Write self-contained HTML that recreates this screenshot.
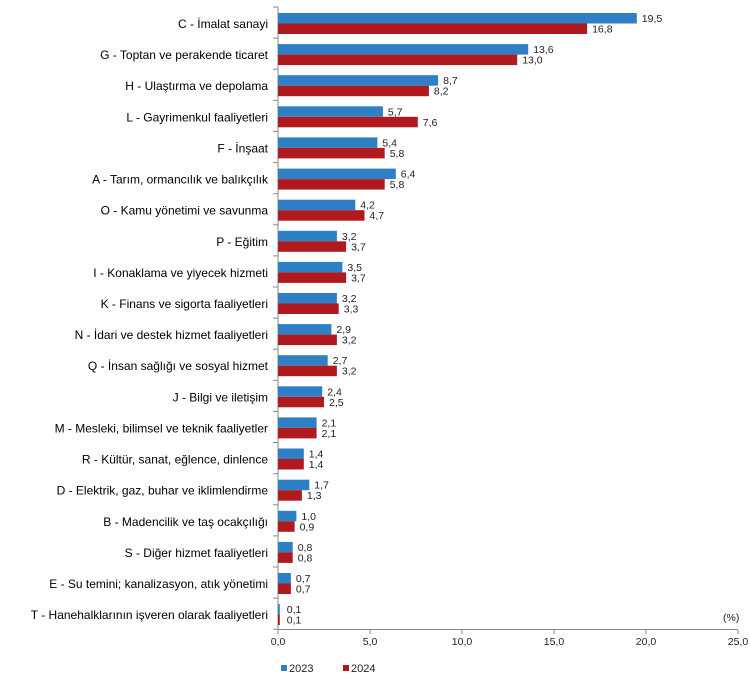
<!DOCTYPE html>
<html><head><meta charset="utf-8"><style>
html,body{margin:0;padding:0;background:#fff;}
svg{display:block;font-family:"Liberation Sans",Arial,sans-serif;}
.c{font-size:12px;fill:#000;text-anchor:end;}
.v{font-size:10.5px;fill:#222;}
.t{font-size:10.5px;fill:#222;text-anchor:middle;}
</style></head><body>
<svg width="750" height="680" viewBox="0 0 750 680">
<defs>
<g id="tk"><line x1="273" y1="0" x2="278" y2="0" stroke="#888" stroke-width="1"/></g>
</defs>
<line x1="278" y1="7" x2="278" y2="629.5" stroke="#888"/>
<line x1="278" y1="629.5" x2="738" y2="629.5" stroke="#888"/>
<g stroke="#888">
<line x1="278" y1="629.5" x2="278" y2="634"/><line x1="370" y1="629.5" x2="370" y2="634"/><line x1="462" y1="629.5" x2="462" y2="634"/><line x1="554" y1="629.5" x2="554" y2="634"/><line x1="646" y1="629.5" x2="646" y2="634"/><line x1="738" y1="629.5" x2="738" y2="634"/>
</g>
<g class="t"><text x="278" y="645">0,0</text><text x="370" y="645">5,0</text><text x="462" y="645">10,0</text><text x="554" y="645">15,0</text><text x="646" y="645">20,0</text><text x="738" y="645">25,0</text></g>
<text x="723" y="621" class="v">(%)</text>
<rect x="281" y="665" width="6" height="6" fill="#2E7FC4"/><text x="289" y="672" class="v" style="font-size:11px">2023</text>
<rect x="343" y="665" width="6" height="6" fill="#B0191E"/><text x="351" y="672" class="v" style="font-size:11px">2024</text>

<g transform="translate(0,7)"><use href="#tk"/><text x="268" y="21" class="c">C - İmalat sanayi</text><rect x="278" y="6" width="358.8" height="10.5" fill="#2E7FC4"/><rect x="278" y="16.5" width="309.1" height="10.5" fill="#B0191E"/><text x="641.8" y="15" class="v">19,5</text><text x="592.1" y="25.5" class="v">16,8</text></g>
<g transform="translate(0,38.1)"><use href="#tk"/><text x="268" y="21" class="c">G - Toptan ve perakende ticaret</text><rect x="278" y="6" width="250.2" height="10.5" fill="#2E7FC4"/><rect x="278" y="16.5" width="239.2" height="10.5" fill="#B0191E"/><text x="533.2" y="15" class="v">13,6</text><text x="522.2" y="25.5" class="v">13,0</text></g>
<g transform="translate(0,69.2)"><use href="#tk"/><text x="268" y="21" class="c">H - Ulaştırma ve depolama</text><rect x="278" y="6" width="160.1" height="10.5" fill="#2E7FC4"/><rect x="278" y="16.5" width="150.9" height="10.5" fill="#B0191E"/><text x="443.1" y="15" class="v">8,7</text><text x="433.9" y="25.5" class="v">8,2</text></g>
<g transform="translate(0,100.3)"><use href="#tk"/><text x="268" y="21" class="c">L - Gayrimenkul faaliyetleri</text><rect x="278" y="6" width="104.9" height="10.5" fill="#2E7FC4"/><rect x="278" y="16.5" width="139.8" height="10.5" fill="#B0191E"/><text x="387.9" y="15" class="v">5,7</text><text x="422.8" y="25.5" class="v">7,6</text></g>
<g transform="translate(0,131.4)"><use href="#tk"/><text x="268" y="21" class="c">F - İnşaat</text><rect x="278" y="6" width="99.4" height="10.5" fill="#2E7FC4"/><rect x="278" y="16.5" width="106.7" height="10.5" fill="#B0191E"/><text x="382.4" y="15" class="v">5,4</text><text x="389.7" y="25.5" class="v">5,8</text></g>
<g transform="translate(0,162.6)"><use href="#tk"/><text x="268" y="21" class="c">A - Tarım, ormancılık ve balıkçılık</text><rect x="278" y="6" width="117.8" height="10.5" fill="#2E7FC4"/><rect x="278" y="16.5" width="106.7" height="10.5" fill="#B0191E"/><text x="400.8" y="15" class="v">6,4</text><text x="389.7" y="25.5" class="v">5,8</text></g>
<g transform="translate(0,193.7)"><use href="#tk"/><text x="268" y="21" class="c">O - Kamu yönetimi ve savunma</text><rect x="278" y="6" width="77.3" height="10.5" fill="#2E7FC4"/><rect x="278" y="16.5" width="86.5" height="10.5" fill="#B0191E"/><text x="360.3" y="15" class="v">4,2</text><text x="369.5" y="25.5" class="v">4,7</text></g>
<g transform="translate(0,224.8)"><use href="#tk"/><text x="268" y="21" class="c">P - Eğitim</text><rect x="278" y="6" width="58.9" height="10.5" fill="#2E7FC4"/><rect x="278" y="16.5" width="68.1" height="10.5" fill="#B0191E"/><text x="341.9" y="15" class="v">3,2</text><text x="351.1" y="25.5" class="v">3,7</text></g>
<g transform="translate(0,255.9)"><use href="#tk"/><text x="268" y="21" class="c">I - Konaklama ve yiyecek hizmeti</text><rect x="278" y="6" width="64.4" height="10.5" fill="#2E7FC4"/><rect x="278" y="16.5" width="68.1" height="10.5" fill="#B0191E"/><text x="347.4" y="15" class="v">3,5</text><text x="351.1" y="25.5" class="v">3,7</text></g>
<g transform="translate(0,287)"><use href="#tk"/><text x="268" y="21" class="c">K - Finans ve sigorta faaliyetleri</text><rect x="278" y="6" width="58.9" height="10.5" fill="#2E7FC4"/><rect x="278" y="16.5" width="60.7" height="10.5" fill="#B0191E"/><text x="341.9" y="15" class="v">3,2</text><text x="343.7" y="25.5" class="v">3,3</text></g>
<g transform="translate(0,318.1)"><use href="#tk"/><text x="268" y="21" class="c">N - İdari ve destek hizmet faaliyetleri</text><rect x="278" y="6" width="53.4" height="10.5" fill="#2E7FC4"/><rect x="278" y="16.5" width="58.9" height="10.5" fill="#B0191E"/><text x="336.4" y="15" class="v">2,9</text><text x="341.9" y="25.5" class="v">3,2</text></g>
<g transform="translate(0,349.2)"><use href="#tk"/><text x="268" y="21" class="c">Q - İnsan sağlığı ve sosyal hizmet</text><rect x="278" y="6" width="49.7" height="10.5" fill="#2E7FC4"/><rect x="278" y="16.5" width="58.9" height="10.5" fill="#B0191E"/><text x="332.7" y="15" class="v">2,7</text><text x="341.9" y="25.5" class="v">3,2</text></g>
<g transform="translate(0,380.3)"><use href="#tk"/><text x="268" y="21" class="c">J - Bilgi ve iletişim</text><rect x="278" y="6" width="44.2" height="10.5" fill="#2E7FC4"/><rect x="278" y="16.5" width="46" height="10.5" fill="#B0191E"/><text x="327.2" y="15" class="v">2,4</text><text x="329" y="25.5" class="v">2,5</text></g>
<g transform="translate(0,411.4)"><use href="#tk"/><text x="268" y="21" class="c">M - Mesleki, bilimsel ve teknik faaliyetler</text><rect x="278" y="6" width="38.6" height="10.5" fill="#2E7FC4"/><rect x="278" y="16.5" width="38.6" height="10.5" fill="#B0191E"/><text x="321.6" y="15" class="v">2,1</text><text x="321.6" y="25.5" class="v">2,1</text></g>
<g transform="translate(0,442.5)"><use href="#tk"/><text x="268" y="21" class="c">R - Kültür, sanat, eğlence, dinlence</text><rect x="278" y="6" width="25.8" height="10.5" fill="#2E7FC4"/><rect x="278" y="16.5" width="25.8" height="10.5" fill="#B0191E"/><text x="308.8" y="15" class="v">1,4</text><text x="308.8" y="25.5" class="v">1,4</text></g>
<g transform="translate(0,473.7)"><use href="#tk"/><text x="268" y="21" class="c">D - Elektrik, gaz, buhar ve iklimlendirme</text><rect x="278" y="6" width="31.3" height="10.5" fill="#2E7FC4"/><rect x="278" y="16.5" width="23.9" height="10.5" fill="#B0191E"/><text x="314.3" y="15" class="v">1,7</text><text x="306.9" y="25.5" class="v">1,3</text></g>
<g transform="translate(0,504.8)"><use href="#tk"/><text x="268" y="21" class="c">B - Madencilik ve taş ocakçılığı</text><rect x="278" y="6" width="18.4" height="10.5" fill="#2E7FC4"/><rect x="278" y="16.5" width="16.6" height="10.5" fill="#B0191E"/><text x="301.4" y="15" class="v">1,0</text><text x="299.6" y="25.5" class="v">0,9</text></g>
<g transform="translate(0,535.9)"><use href="#tk"/><text x="268" y="21" class="c">S - Diğer hizmet faaliyetleri</text><rect x="278" y="6" width="14.7" height="10.5" fill="#2E7FC4"/><rect x="278" y="16.5" width="14.7" height="10.5" fill="#B0191E"/><text x="297.7" y="15" class="v">0,8</text><text x="297.7" y="25.5" class="v">0,8</text></g>
<g transform="translate(0,567)"><use href="#tk"/><text x="268" y="21" class="c">E - Su temini; kanalizasyon, atık yönetimi</text><rect x="278" y="6" width="12.9" height="10.5" fill="#2E7FC4"/><rect x="278" y="16.5" width="12.9" height="10.5" fill="#B0191E"/><text x="295.9" y="15" class="v">0,7</text><text x="295.9" y="25.5" class="v">0,7</text></g>
<g transform="translate(0,598.1)"><use href="#tk"/><text x="268" y="21" class="c">T - Hanehalklarının işveren olarak faaliyetleri</text><rect x="278" y="6" width="1.8" height="10.5" fill="#2E7FC4"/><rect x="278" y="16.5" width="1.8" height="10.5" fill="#B0191E"/><text x="286.8" y="15" class="v">0,1</text><text x="286.8" y="25.5" class="v">0,1</text></g>
<g transform="translate(0,629.2)"><use href="#tk"/></g>
</svg>
</body></html>
